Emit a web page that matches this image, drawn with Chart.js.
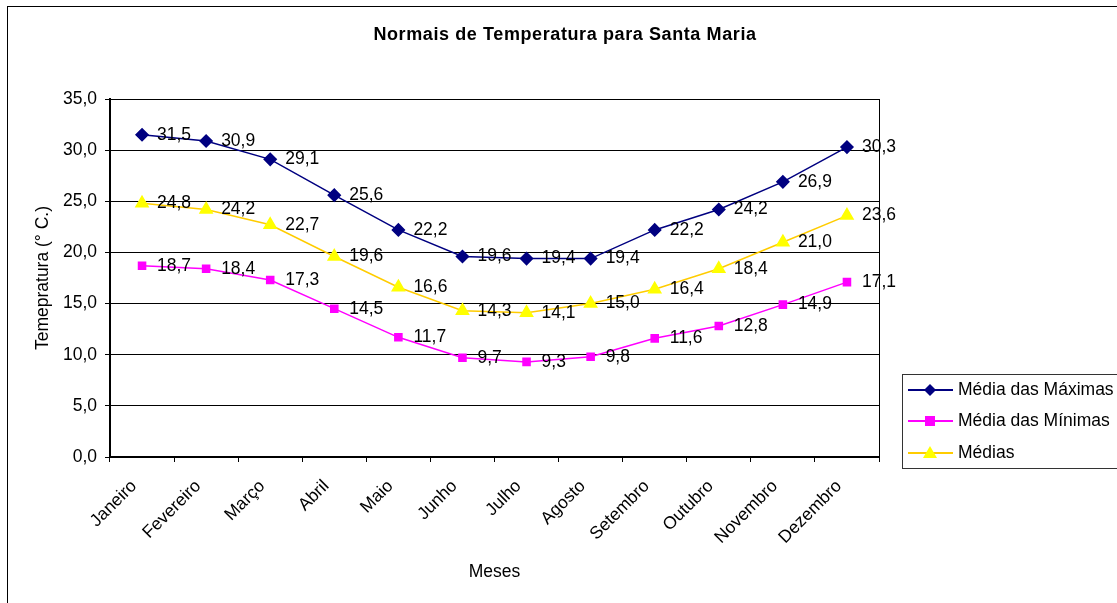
<!DOCTYPE html>
<html>
<head>
<meta charset="utf-8">
<script src="https://cdn.jsdelivr.net/npm/chart.js@4"></script>
<style>
  body { margin: 0; background: #fff; }
  #wrap { position: relative; width: 1117px; height: 603px; overflow: hidden; }
  #frame { position: absolute; left: 7px; top: 6px; width: 1130px; height: 620px; border: 1px solid #000; box-sizing: border-box; }
  canvas { position: absolute; left: 0; top: 0; }
</style>
</head>
<body>
<div id="wrap">
  <div id="frame"></div>
  <canvas id="grafico" width="1117" height="603"></canvas>
</div>
<script>
const meses = ['Janeiro', 'Fevereiro', 'Março', 'Abril', 'Maio', 'Junho', 'Julho', 'Agosto', 'Setembro', 'Outubro', 'Novembro', 'Dezembro'];
const mediaMaximas = [31.5, 30.9, 29.1, 25.6, 22.2, 19.6, 19.4, 19.4, 22.2, 24.2, 26.9, 30.3];
const mediaMinimas = [18.7, 18.4, 17.3, 14.5, 11.7, 9.7, 9.3, 9.8, 11.6, 12.8, 14.9, 17.1];
const medias = [24.8, 24.2, 22.7, 19.6, 16.6, 14.3, 14.1, 15.0, 16.4, 18.4, 21.0, 23.6];
const titulo = 'Normais de Temperatura para Santa Maria';

const fonte = "'Liberation Sans', Arial, sans-serif";
const tam = 17.5;

function virgula(v) {
    return Number(v).toFixed(1).replace('.', ',');
}

// rotulos de dados ao lado de cada ponto
const rotulosPlugin = {
    id: 'rotulos',
    afterDatasetsDraw(chart) {
        const ctx = chart.ctx;
        ctx.save();
        ctx.font = tam + 'px ' + fonte;
        ctx.fillStyle = '#000';
        ctx.textAlign = 'left';
        ctx.textBaseline = 'middle';
        chart.data.datasets.forEach((ds, i) => {
            const meta = chart.getDatasetMeta(i);
            meta.data.forEach((pt, j) => {
                ctx.fillText(virgula(ds.data[j]), pt.x + 15, pt.y);
            });
        });
        ctx.restore();
    }
};

// titulo, borda direita da area do grafico e legenda com caixa
const molduraPlugin = {
    id: 'moldura',
    afterDraw(chart) {
        const ctx = chart.ctx;
        const area = chart.chartArea;
        ctx.save();

        ctx.font = 'bold 18px ' + fonte;
        ctx.fillStyle = '#000';
        ctx.textAlign = 'center';
        ctx.textBaseline = 'middle';
        ctx.letterSpacing = '0.6px';
        ctx.fillText(titulo, 565, 35);
        ctx.letterSpacing = '0px';

        ctx.strokeStyle = '#000';
        ctx.lineWidth = 1;
        ctx.beginPath();
        ctx.moveTo(Math.round(area.right) + 0.5, area.top);
        ctx.lineTo(Math.round(area.right) + 0.5, area.bottom);
        ctx.stroke();

        // legenda
        ctx.strokeStyle = '#333';
        ctx.strokeRect(902.5, 374.5, 230, 94);
        const ys = [390, 421, 453];
        ctx.font = tam + 'px ' + fonte;
        ctx.textBaseline = 'middle';
        ctx.textAlign = 'left';
        chart.data.datasets.forEach((ds, i) => {
            const y = ys[i];
            ctx.strokeStyle = ds.borderColor;
            ctx.lineWidth = 2;
            ctx.beginPath();
            ctx.moveTo(908, y);
            ctx.lineTo(953, y);
            ctx.stroke();
            ctx.fillStyle = ds.pointBackgroundColor;
            ctx.beginPath();
            const x = 930;
            if (ds.pointStyle === 'rectRot') {
                ctx.moveTo(x, y - 6); ctx.lineTo(x + 6, y); ctx.lineTo(x, y + 6); ctx.lineTo(x - 6, y);
            } else if (ds.pointStyle === 'rect') {
                ctx.rect(x - 5, y - 5, 10, 10);
            } else {
                ctx.moveTo(x, y - 7); ctx.lineTo(x + 7, y + 5); ctx.lineTo(x - 7, y + 5);
            }
            ctx.closePath();
            ctx.fill();
            ctx.fillStyle = '#000';
            ctx.fillText(ds.label, 958, y);
        });
        ctx.restore();
    }
};

const config = {
    type: 'line',
    data: {
        labels: meses,
        datasets: [
            {
                label: 'Média das Máximas',
                data: mediaMaximas,
                borderColor: '#000080',
                backgroundColor: '#000080',
                pointBackgroundColor: '#000080',
                pointBorderColor: '#000080',
                pointStyle: 'rectRot',
                pointRadius: 6,
                borderWidth: 1.5,
                tension: 0
            },
            {
                label: 'Média das Mínimas',
                data: mediaMinimas,
                borderColor: '#FF00FF',
                backgroundColor: '#FF00FF',
                pointBackgroundColor: '#FF00FF',
                pointBorderColor: '#FF00FF',
                pointStyle: 'rect',
                pointRadius: 5,
                borderWidth: 1.5,
                tension: 0
            },
            {
                label: 'Médias',
                data: medias,
                borderColor: '#FFCC00',
                backgroundColor: '#FFFF00',
                pointBackgroundColor: '#FFFF00',
                pointBorderColor: '#FFFF00',
                pointStyle: 'triangle',
                pointRadius: 7,
                borderWidth: 1.5,
                tension: 0
            }
        ]
    },
    options: {
        responsive: false,
        animation: false,
        layout: {
            padding: { left: 31, right: 238, top: 99, bottom: 20 }
        },
        plugins: {
            legend: { display: false },
            tooltip: { enabled: false },
            title: { display: false }
        },
        scales: {
            x: {
                offset: true,
                afterFit(scale) { scale.height = 126; },
                grid: {
                    offset: true,
                    drawOnChartArea: false,
                    drawTicks: true,
                    tickLength: 5,
                    color: '#000'
                },
                border: { color: '#000', width: 2 },
                ticks: {
                    color: '#000',
                    font: { family: fonte, size: tam },
                    minRotation: 45,
                    maxRotation: 45,
                    autoSkip: false,
                    padding: 14,
                    labelOffset: -8
                },
                title: {
                    display: true,
                    text: 'Meses',
                    color: '#000',
                    font: { family: fonte, size: tam },
                    padding: { top: 0, bottom: 0 }
                }
            },
            y: {
                min: 0,
                max: 35,
                afterFit(scale) { scale.width = 79; },
                grid: {
                    color: '#000',
                    lineWidth: 1,
                    tickLength: 5
                },
                border: { color: '#000', width: 2 },
                ticks: {
                    stepSize: 5,
                    color: '#000',
                    font: { family: fonte, size: tam },
                    padding: 8,
                    callback: (v) => virgula(v)
                },
                title: {
                    display: true,
                    text: 'Temepratura (° C.)',
                    color: '#000',
                    font: { family: fonte, size: tam },
                    padding: { top: 2, bottom: 0 }
                }
            }
        }
    },
    plugins: [rotulosPlugin, molduraPlugin]
};

const ctx = document.getElementById('grafico').getContext('2d');
const grafico = new Chart(ctx, config);
</script>
</body>
</html>
